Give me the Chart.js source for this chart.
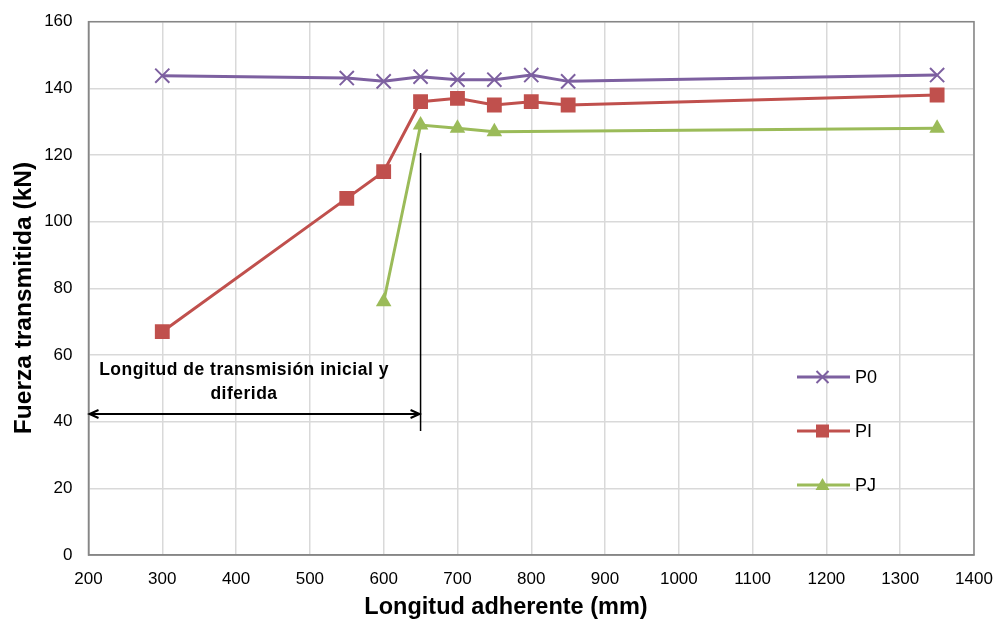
<!DOCTYPE html>
<html>
<head>
<meta charset="utf-8">
<script src="https://cdn.jsdelivr.net/npm/chart.js@4.4.1/dist/chart.umd.min.js"></script>
<style>
  html, body { margin: 0; padding: 0; background: #fff; }
  #wrap { width: 998px; height: 623px; }
</style>
</head>
<body>
<div id="wrap"><canvas id="chart" width="998" height="623"></canvas></div>
<script>
// Data
const xP0 = [300, 550, 600, 650, 700, 750, 800, 850, 1350];
const yP0 = [143.8, 143.1, 142.1, 143.5, 142.6, 142.6, 144, 142.1, 144];
const xPI = [300, 550, 600, 650, 700, 750, 800, 850, 1350];
const yPI = [67, 107, 115, 136, 137, 135, 136, 135, 138];
const xPJ = [600, 650, 700, 750, 1350];
const yPJ = [76, 129, 128, 127, 128];

const xTitle = "Longitud adherente (mm)";
const yTitle = "Fuerza transmitida (kN)";

// Annotation (data units)
const markX = 650;
const markTop = 120.6;
const markBottom = 37.2;
const arrowFrom = 200;
const arrowY = 42.3;
const noteLines = ["Longitud de transmisión inicial y", "diferida"];
const legendY = [53.4, 37.2, 21];

const toPts = (xs, ys) => xs.map((x, i) => ({ x: x, y: ys[i] }));

const FONT = "'Liberation Sans', Arial, sans-serif";

const annotate = {
  id: "annotate",
  afterDatasetsDraw(chart) {
    const { ctx, chartArea: a, scales: { x, y } } = chart;
    ctx.save();
    // plot border
    ctx.strokeStyle = "#868686";
    ctx.lineWidth = 1.5;
    ctx.strokeRect(a.left, a.top, a.right - a.left, a.bottom - a.top);

    // vertical line
    ctx.strokeStyle = "#000";
    ctx.lineWidth = 1.5;
    const vx = x.getPixelForValue(markX);
    ctx.beginPath();
    ctx.moveTo(vx, y.getPixelForValue(markTop));
    ctx.lineTo(vx, y.getPixelForValue(markBottom));
    ctx.stroke();

    // double arrow
    const ay = y.getPixelForValue(arrowY);
    const ax0 = x.getPixelForValue(arrowFrom) + 1;
    const ax1 = vx - 1;
    ctx.lineWidth = 2;
    ctx.beginPath();
    ctx.moveTo(ax0, ay); ctx.lineTo(ax1, ay);
    ctx.moveTo(ax0 + 9, ay - 4); ctx.lineTo(ax0, ay); ctx.lineTo(ax0 + 9, ay + 4);
    ctx.moveTo(ax1 - 9, ay - 4); ctx.lineTo(ax1, ay); ctx.lineTo(ax1 - 9, ay + 4);
    ctx.stroke();

    // note text
    ctx.fillStyle = "#000";
    ctx.font = "bold 17.5px " + FONT;
    ctx.letterSpacing = "0.5px";
    ctx.textAlign = "center";
    ctx.textBaseline = "middle";
    const cx = 244;
    noteLines.forEach((t, i) => ctx.fillText(t, cx, ay - 44 + i * 24));
    ctx.letterSpacing = "0px";

    // legend inside plot
    chart.data.datasets.forEach((ds, i) => {
      const yy = y.getPixelForValue(legendY[i]);
      const x0 = 797, x1 = 850;
      ctx.strokeStyle = ds.borderColor;
      ctx.lineWidth = 3;
      ctx.beginPath(); ctx.moveTo(x0, yy); ctx.lineTo(x1, yy); ctx.stroke();
      const mx = (x0 + x1) / 2 - 1;
      ctx.fillStyle = ds.borderColor;
      ctx.lineWidth = 2;
      if (ds.pointStyle === "crossRot") {
        ctx.beginPath();
        ctx.moveTo(mx - 6, yy - 6); ctx.lineTo(mx + 6, yy + 6);
        ctx.moveTo(mx + 6, yy - 6); ctx.lineTo(mx - 6, yy + 6);
        ctx.stroke();
      } else if (ds.pointStyle === "rect") {
        ctx.fillRect(mx - 6.5, yy - 6.5, 13, 13);
      } else {
        ctx.beginPath();
        ctx.moveTo(mx, yy - 7); ctx.lineTo(mx + 7, yy + 5); ctx.lineTo(mx - 7, yy + 5);
        ctx.closePath(); ctx.fill();
      }
      ctx.fillStyle = "#000";
      ctx.font = "18px " + FONT;
      ctx.textAlign = "left";
      ctx.fillText(ds.label, x1 + 5, yy + 1);
    });

    // axis titles
    ctx.fillStyle = "#000";
    ctx.textAlign = "center";
    ctx.textBaseline = "middle";
    ctx.font = "bold 23.5px " + FONT;
    ctx.fillText(xTitle, 506, 608);
    ctx.translate(24, 298);
    ctx.rotate(-Math.PI / 2);
    ctx.font = "bold 24.5px " + FONT;
    ctx.fillText(yTitle, 0, 0);
    ctx.restore();
  }
};

new Chart(document.getElementById("chart"), {
  type: "scatter",
  data: {
    datasets: [
      {
        label: "P0",
        data: toPts(xP0, yP0),
        showLine: true,
        borderColor: "#7D60A0",
        backgroundColor: "#7D60A0",
        borderWidth: 3,
        pointStyle: "crossRot",
        pointRadius: 10,
        pointBorderWidth: 2,
      },
      {
        label: "PI",
        data: toPts(xPI, yPI),
        showLine: true,
        borderColor: "#C0504D",
        backgroundColor: "#C0504D",
        borderWidth: 3,
        pointStyle: "rect",
        pointRadius: 10.5,
        pointBorderWidth: 0,
      },
      {
        label: "PJ",
        data: toPts(xPJ, yPJ),
        showLine: true,
        borderColor: "#9BBB59",
        backgroundColor: "#9BBB59",
        borderWidth: 3,
        pointStyle: "triangle",
        pointRadius: 9,
        pointBorderWidth: 0,
      },
    ],
  },
  options: {
    responsive: false,
    animation: false,
    layout: { padding: { top: 21.7, right: 24, left: 0, bottom: 0 } },
    plugins: { legend: { display: false }, tooltip: { enabled: false } },
    scales: {
      x: {
        type: "linear",
        min: 200,
        max: 1400,
        afterFit: (s) => { s.height = 68; s.paddingLeft = 0; s.paddingRight = 0; },
        ticks: {
          stepSize: 100, color: "#000", padding: 14,
          font: { family: FONT, size: 17 },
          callback: (v) => String(v),
        },
        grid: { color: "#d9d9d9", lineWidth: 1.5, drawTicks: false },
        border: { color: "#868686", width: 1.5 },
      },
      y: {
        min: 0,
        max: 160,
        afterFit: (s) => { s.width = 88.5; s.paddingTop = 0; s.paddingBottom = 0; },
        ticks: {
          stepSize: 20, color: "#000", padding: 16,
          font: { family: FONT, size: 17 },
        },
        grid: { color: "#d9d9d9", lineWidth: 1.5, drawTicks: false },
        border: { color: "#868686", width: 1.5 },
      },
    },
  },
  plugins: [annotate],
});
</script>
</body>
</html>
